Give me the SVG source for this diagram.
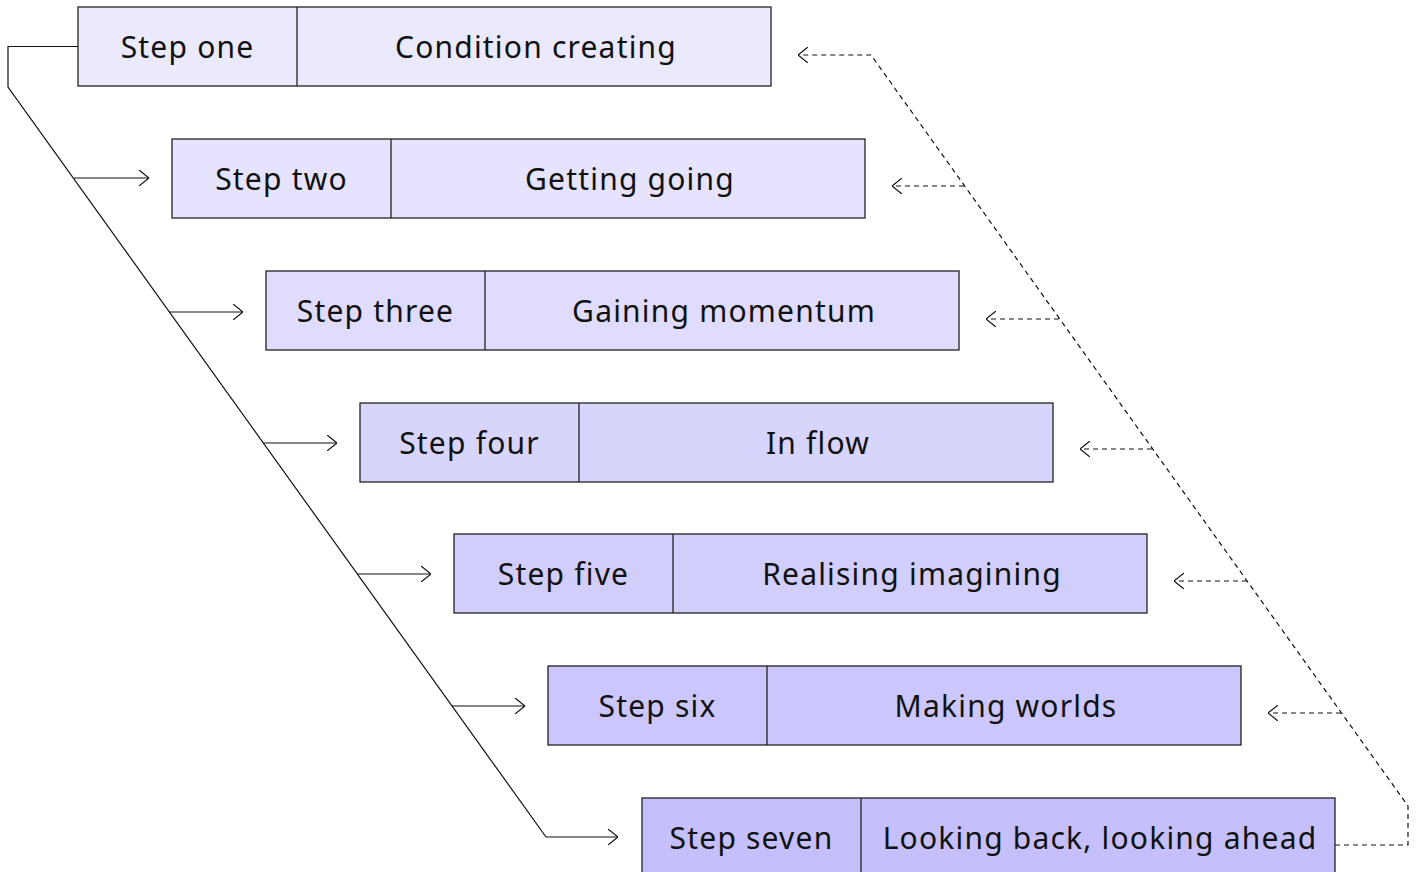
<svg xmlns="http://www.w3.org/2000/svg" width="1421" height="872" viewBox="0 0 1421 872">
<defs>
<style>
.box{stroke:#222;stroke-width:1.3}
.div{stroke:#222;stroke-width:1.3}
text{font-family:"Noto Sans","DejaVu Sans",sans-serif;font-size:30px;fill:#111;text-anchor:middle;letter-spacing:1.2px}
.solid{fill:none;stroke:#111;stroke-width:1.2}
.dash{fill:none;stroke:#111;stroke-width:1.2;stroke-dasharray:5 4}
</style>
<marker id="ah" viewBox="0 0 10 16" refX="10" refY="8" markerWidth="10" markerHeight="16" markerUnits="userSpaceOnUse" orient="auto">
<path d="M0,0 L10,8 L0,16" fill="none" stroke="#111" stroke-width="1.2"/>
</marker>
</defs>
<rect width="1421" height="872" fill="#fff"/>
<g id="step1"><rect class="box" x="78" y="7" width="693" height="79" fill="#ebeafd"/><line class="div" x1="297" y1="7" x2="297" y2="86"/><text x="187.5" y="58">Step one</text><text x="536" y="58">Condition creating</text></g>
<g id="step2"><rect class="box" x="172" y="139" width="693" height="79" fill="#e5e3fd"/><line class="div" x1="391" y1="139" x2="391" y2="218"/><text x="281.5" y="190">Step two</text><text x="630" y="190">Getting going</text></g>
<g id="step3"><rect class="box" x="266" y="271" width="693" height="79" fill="#dfdcfd"/><line class="div" x1="485" y1="271" x2="485" y2="350"/><text x="375.5" y="322">Step three</text><text x="724" y="322">Gaining momentum</text></g>
<g id="step4"><rect class="box" x="360" y="403" width="693" height="79" fill="#d8d5fc"/><line class="div" x1="579" y1="403" x2="579" y2="482"/><text x="469.5" y="454">Step four</text><text x="818" y="454">In flow</text></g>
<g id="step5"><rect class="box" x="454" y="534" width="693" height="79" fill="#d2cefc"/><line class="div" x1="673" y1="534" x2="673" y2="613"/><text x="563.5" y="585">Step five</text><text x="912" y="585">Realising imagining</text></g>
<g id="step6"><rect class="box" x="548" y="666" width="693" height="79" fill="#cbc7fc"/><line class="div" x1="767" y1="666" x2="767" y2="745"/><text x="657.5" y="717">Step six</text><text x="1006" y="717">Making worlds</text></g>
<g id="step7"><rect class="box" x="642" y="798" width="693" height="79" fill="#c5c0fb"/><line class="div" x1="861" y1="798" x2="861" y2="877"/><text x="751.5" y="849">Step seven</text><text x="1100" y="849">Looking back, looking ahead</text></g>
<g id="connectors">
<path class="solid" d="M78,46.5 H8 V87 L546,837 H618" marker-end="url(#ah)"/>
<path class="solid" d="M74,178 H149" marker-end="url(#ah)"/>
<path class="solid" d="M169,312 H243" marker-end="url(#ah)"/>
<path class="solid" d="M263,443 H337" marker-end="url(#ah)"/>
<path class="solid" d="M357,574 H431" marker-end="url(#ah)"/>
<path class="solid" d="M452,706 H525" marker-end="url(#ah)"/>
<path class="dash" d="M1335,845 H1408 V806 L871,55 H798" marker-end="url(#ah)"/>
<path class="dash" d="M964,186 H892" marker-end="url(#ah)"/>
<path class="dash" d="M1059,319 H986" marker-end="url(#ah)"/>
<path class="dash" d="M1152,449 H1080" marker-end="url(#ah)"/>
<path class="dash" d="M1247,581 H1174" marker-end="url(#ah)"/>
<path class="dash" d="M1341,713 H1268" marker-end="url(#ah)"/>
</g>
</svg>
